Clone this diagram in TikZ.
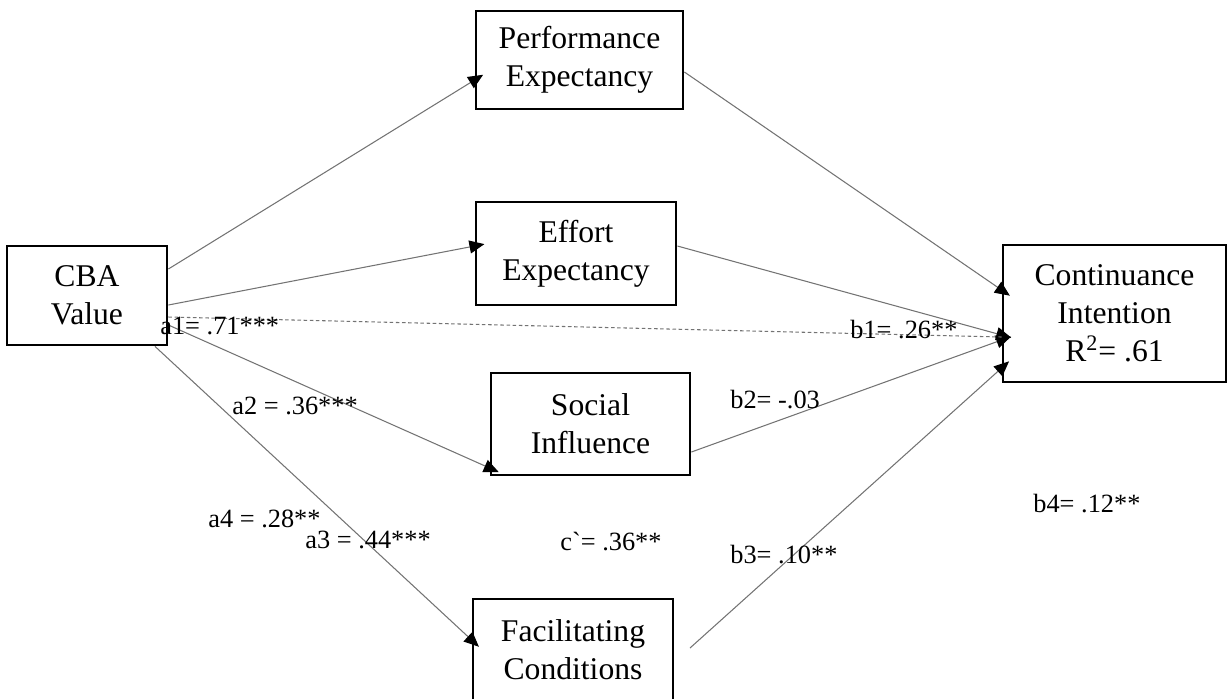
\documentclass[tikz,border=0pt]{standalone}
\usepackage{fontspec}
\setmainfont{Liberation Serif}
\usetikzlibrary{positioning}
\usetikzlibrary{arrows.meta}

\tikzset{
	varbox/.style={draw, line width=1.6pt, align=center, inner sep=0pt, font=\fontsize{18}{21.5}\selectfont},
	link/.style={draw=black!55, line width=0.6pt, -{Triangle[length=0.3cm,width=0.26cm,color=black]}, shorten >=-0.2cm},
	coef/.style={font=\fontsize{15}{18}\selectfont, inner sep=0pt, anchor=base west}
}

\begin{document}
\begin{tikzpicture}[x=0.02cm, y=-0.02cm]
\useasboundingbox (0,0) rectangle (1230,698);

%boxes
\node[varbox, minimum width=3.2cm, minimum height=1.98cm] (cba) at (87,295.5) {CBA\\Value};
\node[varbox, minimum width=4.14cm, minimum height=1.96cm] (pe) at (579.5,60) {Performance\\Expectancy};
\node[varbox, minimum width=4cm, minimum height=2.06cm] (ee) at (576,253.5) {Effort\\Expectancy};
\node[varbox, minimum width=3.98cm, minimum height=2.04cm] (si) at (590.5,424) {Social\\Influence};
\node[varbox, minimum width=4cm, minimum height=2.04cm] (fc) at (573,650) {Facilitating\\Conditions};
\node[varbox, minimum width=4.46cm, minimum height=2.74cm] (ci) at (1114.5,313.5) {Continuance\\Intention\\R\textsuperscript{2}= .61};

%free ends
\coordinate (fcout) at (690,648);

%a paths
\draw[link] (cba.east |- 0,269) -- (pe.west |- 0,80);
\draw[link] (cba.east |- 0,305) -- (ee.west |- 0,246);
\draw[link] (cba.east |- 0,325) -- (si.west |- 0,468);
\draw[link] (cba.south -| 155,0) -- (fc.west |- 0,640);

%b paths
\draw[link] (pe.east |- 0,72) -- (ci.west |- 0,290);
\draw[link] (ee.east |- 0,246) -- (ci.west |- 0,335);
\draw[link] (si.east |- 0,452) -- (ci.west |- 0,340);
\draw[link] (fcout) -- (ci.west |- 0,368);

%direct path
\draw[black!55, line width=0.6pt, dash pattern=on 2pt off 1.5pt] (cba.east |- 0,317) -- (ci.west |- 0,337);

%labels
\node[coef] (a1) at (160,334) {a1= .71***};
\node[coef] (a2) at (232,414) {a2 = .36***};
\node[coef] (a4) at (208,527) {a4 = .28**};
\node[coef] (a3) at (305,548) {a3 = .44***};
\node[coef] (cp) at (560,550) {c\textasciigrave= .36**};
\node[coef] (b1) at (850,338) {b1= .26**};
\node[coef] (b2) at (730,408) {b2= -.03};
\node[coef] (b3) at (730,563) {b3= .10**};
\node[coef] (b4) at (1033,512) {b4= .12**};

\end{tikzpicture}
\end{document}
